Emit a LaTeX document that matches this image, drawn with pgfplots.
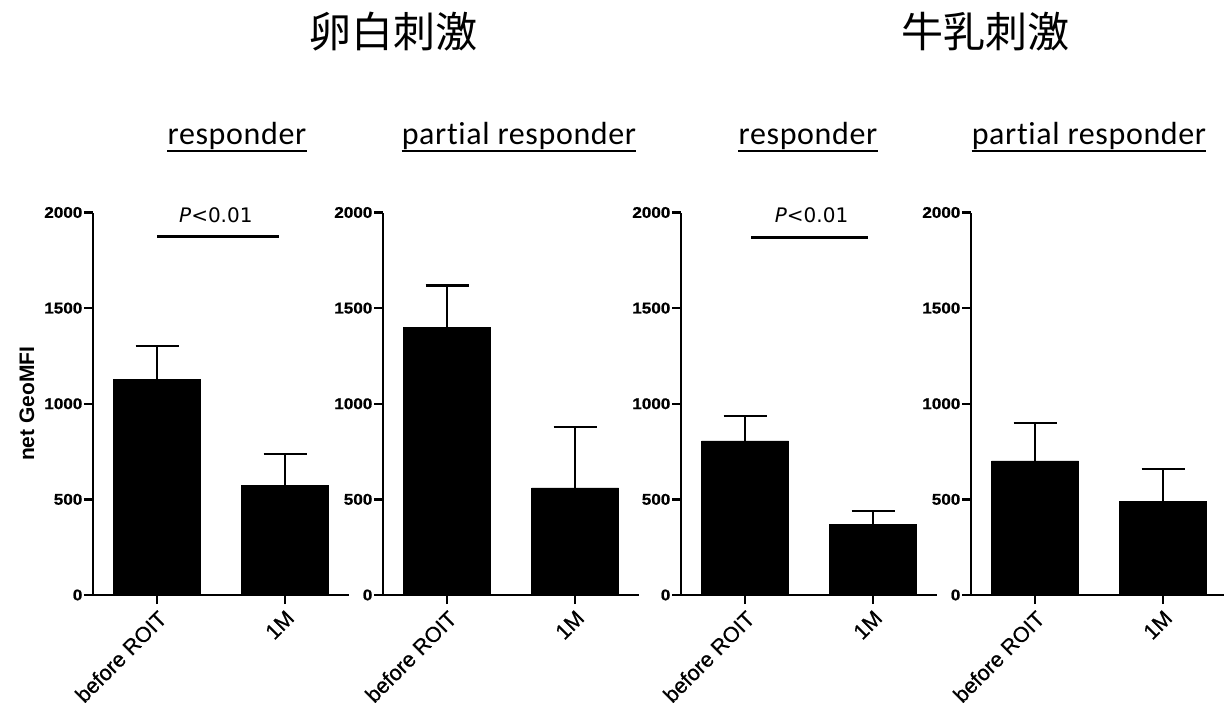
\documentclass[border=0pt]{standalone}
\usepackage{fontspec}
\usepackage{pgfplots}
\pgfplotsset{compat=1.18}
\setmainfont{Liberation Sans}
\newfontfamily\cjk{Noto Sans CJK JP}
\newfontfamily\subfont[Ligatures=NoCommon, LetterSpace=2]{Carlito}
\newfontfamily\tickfont[FakeStretch=1.1, FakeBold=1]{Liberation Sans}
\newfontfamily\xfont[FakeBold=0.6]{Liberation Sans}
\newfontfamily\pfont{DejaVu Sans}

\pgfplotsset{panel/.style={
  scale only axis, width=256pt, height=382.5pt,
  xmin=-0.5, xmax=1.5, ymin=0, ymax=2000,
  axis x line=bottom, axis y line=left,
  axis line style={line width=2.5pt, -},
  xtick={0,1}, xticklabels={before ROIT,1M},
  ytick={0,500,1000,1500,2000},
  tick align=outside, major tick length=9pt,
  tick style={line width=2.5pt, black},
  xticklabel style={rotate=45, anchor=north east, inner sep=3.5pt,
    font=\xfont\fontsize{21.5}{21.5}\selectfont},
  yticklabel style={inner sep=1.5pt, font=\tickfont\bfseries\fontsize{15.5}{15.5}\selectfont},
  /pgf/number format/assume math mode=true,
  /pgf/number format/1000 sep={},
  scaled y ticks=false,
  clip=false,
  anchor=south west,
},
bars/.style={ybar, bar width=87pt, fill=black, draw=black,
  error bars/.cd, y dir=plus, y explicit,
  error bar style={line width=2.5pt, black},
  error mark options={rotate=90, mark size=21.5pt, line width=2.5pt, black}},
sig/.style={line width=3pt, black}
}

\begin{document}
\begin{tikzpicture}[x=1pt,y=1pt]
\useasboundingbox (0,0) rectangle (1224,702);

% titles
\node[font=\cjk\fontsize{42}{42}\selectfont] at (393,670) {卵白刺激};
\node[font=\cjk\fontsize{42}{42}\selectfont] at (985,670) {牛乳刺激};

% subtitles
\foreach \xx/\tt [count=\i] in {237/responder, 519/partial responder, 808/responder, 1089/partial responder}{
  \node[font=\subfont\fontsize{32}{32}\selectfont, anchor=base, inner sep=0pt] (s\i) at (\xx,557) {\tt};
  \draw[line width=1.8pt] ([yshift=-6pt]s\i.base west) -- ([yshift=-6pt]s\i.base east);
}

% panel 1: egg white, responder
\begin{axis}[panel, at={(93pt,107pt)},
  ylabel={net GeoMFI},
  ylabel style={at={(axis description cs:-0.258,0.5)}, anchor=center,
    font=\bfseries\fontsize{21}{21}\selectfont}]
\addplot[bars] coordinates {(0,1128) +- (0,174) (1,574) +- (0,162)};
\addplot[sig] coordinates {(0,1872) (0.95,1872)};
\node[font=\pfont\fontsize{20}{20}\selectfont] at (axis cs:0.46,1986) {\textit{P}<0.01};
\end{axis}

% panel 2: egg white, partial responder
\begin{axis}[panel, at={(383pt,107pt)}]
\addplot[bars] coordinates {(0,1398) +- (0,220) (1,560) +- (0,319)};
\end{axis}

% panel 3: milk, responder
\begin{axis}[panel, at={(681pt,107pt)}]
\addplot[bars] coordinates {(0,806) +- (0,130) (1,371) +- (0,68)};
\addplot[sig] coordinates {(0.05,1871) (0.96,1871)};
\node[font=\pfont\fontsize{20}{20}\selectfont] at (axis cs:0.52,1986) {\textit{P}<0.01};
\end{axis}

% panel 4: milk, partial responder
\begin{axis}[panel, at={(971pt,107pt)}]
\addplot[bars] coordinates {(0,701) +- (0,199) (1,488) +- (0,172)};
\end{axis}
\end{tikzpicture}
\end{document}
